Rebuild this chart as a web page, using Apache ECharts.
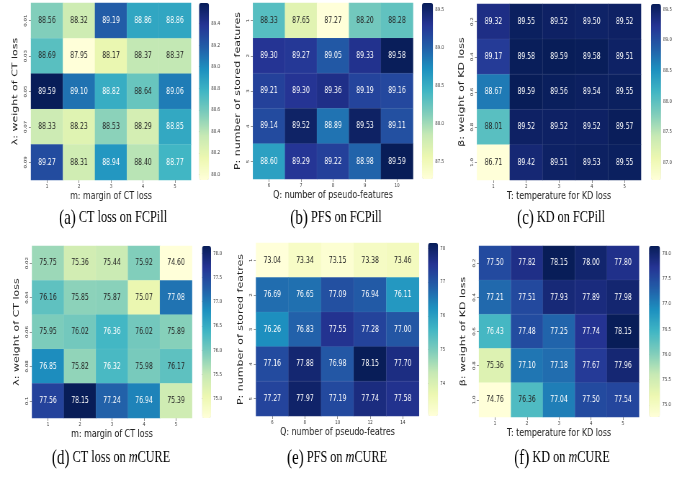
<!DOCTYPE html>
<html><head><meta charset="utf-8">
<script src="https://cdn.jsdelivr.net/npm/echarts@6/dist/echarts.min.js"></script>
<style>
html,body{margin:0;padding:0;background:#fff;overflow:hidden}
#wrap{width:682px;height:478px;overflow:hidden;position:relative}
#c{width:947px;height:478px;transform:scaleX(0.720169);transform-origin:0 0}
</style>
</head><body><div id="wrap"><div id="c"></div></div>
<script>
// ---------------- data ----------------
const ctFcpillX = ['1','2','3','4','5'];
const ctFcpillY = ['0.01','0.03','0.05','0.07','0.09'];
const ctFcpill = [
  [88.56,88.32,89.19,88.86,88.86],
  [88.69,87.95,88.17,88.37,88.37],
  [89.59,89.10,88.82,88.64,89.06],
  [88.33,88.23,88.53,88.29,88.85],
  [89.27,88.31,88.94,88.40,88.77]];
const ctFcpillTicks = [88.0,88.2,88.4,88.6,88.8,89.0,89.2,89.4];

const pfsFcpillX = ['6','7','8','9','10'];
const pfsFcpillY = ['1','2','3','4','5'];
const pfsFcpill = [
  [88.33,87.65,87.27,88.20,88.28],
  [89.30,89.27,89.05,89.33,89.58],
  [89.21,89.30,89.36,89.19,89.16],
  [89.14,89.52,88.89,89.53,89.11],
  [88.60,89.29,89.22,88.98,89.59]];
const pfsFcpillTicks = [87.5,88.0,88.5,89.0,89.5];

const kdFcpillX = ['1','2','3','4','5'];
const kdFcpillY = ['0.2','0.4','0.6','0.8','1.0'];
const kdFcpill = [
  [89.32,89.55,89.52,89.50,89.52],
  [89.17,89.58,89.59,89.58,89.51],
  [88.67,89.59,89.56,89.54,89.55],
  [88.01,89.52,89.52,89.52,89.57],
  [86.71,89.42,89.51,89.53,89.55]];
const kdFcpillTicks = [87.0,87.5,88.0,88.5,89.0,89.5];

const ctMcureX = ['1','2','3','4','5'];
const ctMcureY = ['0.02','0.04','0.06','0.08','0.1'];
const ctMcure = [
  [75.75,75.36,75.44,75.92,74.60],
  [76.16,75.85,75.87,75.07,77.08],
  [75.95,76.02,76.36,76.02,75.89],
  [76.85,75.82,76.32,75.98,76.17],
  [77.56,78.15,77.24,76.94,75.39]];
const ctMcureTicks = [75.0,75.5,76.0,76.5,77.0,77.5,78.0];

const pfsMcureX = ['6','8','10','12','14'];
const pfsMcureY = ['1','2','3','4','5'];
const pfsMcure = [
  [73.04,73.34,73.15,73.38,73.46],
  [76.69,76.65,77.09,76.94,76.11],
  [76.26,76.83,77.55,77.28,77.00],
  [77.16,77.88,76.98,78.15,77.70],
  [77.27,77.97,77.19,77.74,77.58]];
const pfsMcureTicks = [74,75,76,77,78];

const kdMcureX = ['1','2','3','4','5'];
const kdMcureY = ['0.2','0.4','0.6','0.8','1.0'];
const kdMcure = [
  [77.50,77.82,78.15,78.00,77.80],
  [77.21,77.51,77.93,77.89,77.98],
  [76.43,77.48,77.25,77.74,78.15],
  [75.36,77.10,77.18,77.67,77.96],
  [74.76,76.36,77.04,77.50,77.54]];
const kdMcureTicks = [75.0,75.5,76.0,76.5,77.0,77.5,78.0];

const xNames = ['m: margin of CT loss','Q: number of pseudo-features','T: temperature for KD loss',
                'm: margin of CT loss','Q: number of pseudo-featres','T: temperature for KD loss'];
const yNames = ['λ: weight of CT loss','P: number of stored features','β: weight of KD loss',
                'λ: weight of CT loss','P: number of stored featres','β: weight of KD loss'];
const captions = ['{l|(a)} CT loss on FCPill','{l|(b)} PFS on FCPill','{l|(c)} KD on FCPill',
                  '{l|(d)} CT loss on {i|m}CURE','{l|(e)} PFS on {i|m}CURE','{l|(f)} KD on {i|m}CURE'];

// ---------------- layout (image px) ----------------
const S = 682/947;
const layout = [
  {x:31, y:3,  w:160, h:177, cbx:199, cbw:10, dec:1, cx:113, cy:218},
  {x:253,y:3,  w:160, h:176, cbx:422, cbw:11, dec:1, cx:336, cy:218},
  {x:477,y:4,  w:164, h:176, cbx:651, cbw:10, dec:1, cx:561, cy:218},
  {x:32, y:246,w:160, h:172, cbx:202, cbw:9,  dec:1, cx:111, cy:458},
  {x:256,y:243,w:163, h:173, cbx:428, cbw:10, dec:0, cx:337, cy:458},
  {x:479,y:246,w:160, h:171, cbx:649, cbw:11, dec:1, cx:562, cy:458}
];
const panels = [
  [ctFcpillX, ctFcpillY, ctFcpill, ctFcpillTicks],
  [pfsFcpillX, pfsFcpillY, pfsFcpill, pfsFcpillTicks],
  [kdFcpillX, kdFcpillY, kdFcpill, kdFcpillTicks],
  [ctMcureX, ctMcureY, ctMcure, ctMcureTicks],
  [pfsMcureX, pfsMcureY, pfsMcure, pfsMcureTicks],
  [kdMcureX, kdMcureY, kdMcure, kdMcureTicks]
];

const YlGnBu = ['#ffffd9','#edf8b1','#c7e9b4','#7fcdbb','#41b6c4','#1d91c0','#225ea8','#253494','#081d58'];
function hex(c){return [1,3,5].map(i=>parseInt(c.substr(i,2),16));}
function cmap(t){
  t = Math.max(0,Math.min(1,t));
  const p = t*(YlGnBu.length-1), i = Math.min(Math.floor(p), YlGnBu.length-2), f = p-i;
  const a = hex(YlGnBu[i]), b = hex(YlGnBu[i+1]);
  return a.map((v,k)=>v+(b[k]-v)*f);
}
function lum(rgb){
  const l = rgb.map(v=>{v/=255; return v<=0.03928? v/12.92 : Math.pow((v+0.055)/1.055,2.4);});
  return 0.2126*l[0]+0.7152*l[1]+0.0722*l[2];
}

const FONT = 'DejaVu Sans';
const option = {animation:false, grid:[], xAxis:[], yAxis:[], series:[], visualMap:[], graphic:[]};

panels.forEach((p, i) => {
  const [xs, ys, vals, ticks] = p;
  const L = layout[i];
  const flat = vals.flat();
  const mn = Math.min(...flat), mx = Math.max(...flat);
  option.grid.push({left:L.x/S, top:L.y, width:L.w/S, height:L.h});
  option.grid.push({left:L.cbx/S, top:L.y, width:L.cbw/S, height:L.h});
  option.xAxis.push({
    gridIndex:2*i, type:'category', data:xs,
    axisLine:{show:false}, axisTick:{show:true, length:3, alignWithLabel:true, lineStyle:{color:'#444', width:0.6}},
    axisLabel:{fontSize:5.5, color:'#333', margin:4, fontFamily:FONT},
    name:xNames[i], nameLocation:'middle', nameGap:10,
    nameTextStyle:{fontSize:11, color:'#222', fontFamily:FONT}
  });
  option.xAxis.push({gridIndex:2*i+1, type:'value', show:false});
  option.yAxis.push({
    gridIndex:2*i, type:'category', data:ys, inverse:true,
    axisLine:{show:false}, axisTick:{show:true, length:3, alignWithLabel:true, lineStyle:{color:'#444', width:0.6}},
    axisLabel:{fontSize:5.5, color:'#333', margin:4, rotate:90, fontFamily:FONT},
    name:yNames[i], nameLocation:'middle', nameGap:16, nameRotate:90,
    nameTextStyle:{fontSize:11, color:'#222', fontFamily:FONT}
  });
  option.yAxis.push({
    gridIndex:2*i+1, type:'value', min:mn, max:mx, position:'right',
    axisLine:{show:false}, splitLine:{show:false},
    axisTick:{show:true, length:3, customValues:ticks, lineStyle:{color:'#444', width:0.6}},
    axisLabel:{show:true, customValues:ticks, fontSize:5.5, color:'#333', margin:3, fontFamily:FONT,
               formatter:v=>Number(v).toFixed(L.dec)}
  });
  const data = [];
  vals.forEach((row, r) => row.forEach((v, c) => {
    const col = cmap((v-mn)/(mx-mn));
    data.push({value:[c, r, v], label:{color: lum(col) > 0.408 ? '#262626' : '#ffffff'}});
  }));
  option.series.push({
    type:'heatmap', xAxisIndex:2*i, yAxisIndex:2*i, data:data,
    label:{show:true, fontSize:8.5, fontFamily:FONT, formatter:pa=>pa.value[2].toFixed(2)},
    itemStyle:{borderColor:'rgba(255,255,255,0.12)', borderWidth:0.5},
    emphasis:{disabled:true}
  });
  option.visualMap.push({
    type:'continuous', seriesIndex:i, min:mn, max:mx, orient:'vertical',
    left:L.cbx/S, top:L.y, itemWidth:L.cbw/S, itemHeight:L.h, padding:0,
    calculable:false, hoverLink:false, text:null, inRange:{color:YlGnBu}
  });
  option.graphic.push({
    type:'text', x:L.cx/S, y:L.cy, silent:true,
    style:{text:captions[i], textAlign:'center', textVerticalAlign:'middle',
           fontFamily:'Liberation Serif', fontSize:17, fill:'#000',
           rich:{l:{fontFamily:'Liberation Serif', fontSize:21, fill:'#000'},
                 i:{fontFamily:'Liberation Serif', fontSize:17, fontStyle:'italic', fill:'#000'}}}
  });
});

const chart = echarts.init(document.getElementById('c'), null, {renderer:'canvas'});
chart.setOption(option);
</script>
</body></html>
